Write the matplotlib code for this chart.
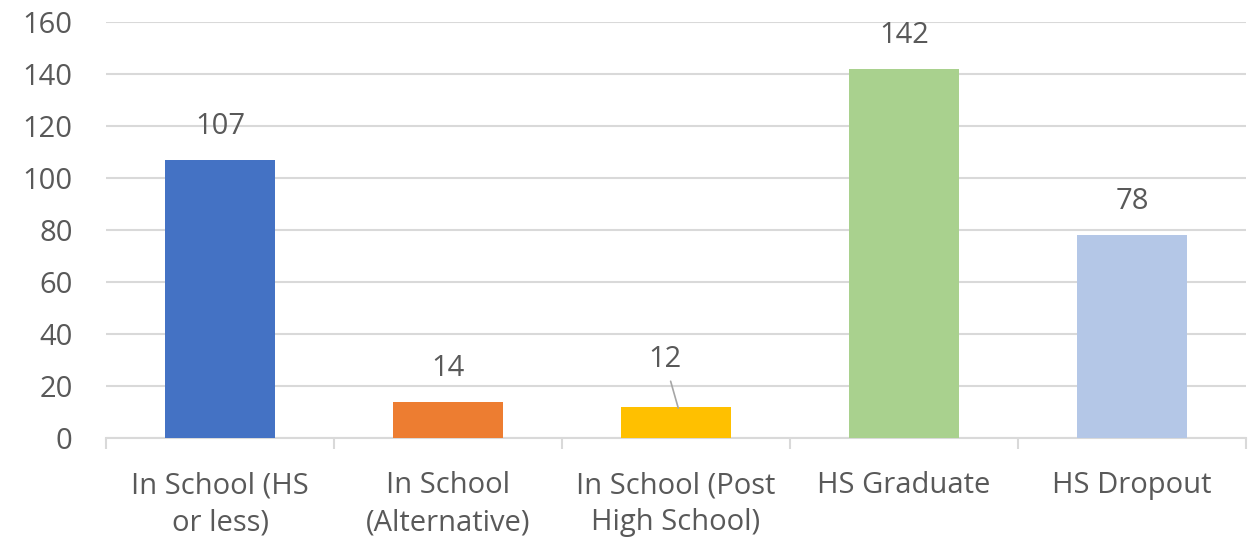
import matplotlib
matplotlib.use("Agg")
import matplotlib.pyplot as plt
import numpy as np

categories = ["In School (HS\nor less)", "In School\n(Alternative)", "In School (Post\nHigh School)", "HS Graduate", "HS Dropout"]
values = [107, 14, 12, 142, 78]
colors = ["#4472C4", "#ED7D31", "#FFC000", "#A9D18E", "#B4C7E7"]
yticks = [0, 20, 40, 60, 80, 100, 120, 140, 160]

plt.rcParams['font.family'] = ['Open Sans', 'DejaVu Sans']
txt = "#595959"
fs = 21

fig = plt.figure(figsize=(12.56, 5.47), dpi=100)
ax = fig.add_axes([0.0844, 0.1993, 0.9076, 0.7607])
x = np.arange(len(categories))
bars = ax.bar(x, values, width=0.48, color=colors, zorder=3)
ax.set_xlim(-0.5, len(categories) - 0.5)
ax.set_ylim(0, 160)
ax.set_yticks(yticks)
ax.set_yticklabels([str(v) for v in yticks], fontsize=fs, color=txt)
ax.grid(axis='y', color="#D9D9D9", linewidth=1.5, zorder=0)
for s in ['top', 'right', 'left']:
    ax.spines[s].set_visible(False)
ax.spines['bottom'].set_color("#D9D9D9")
ax.spines['bottom'].set_linewidth(1.5)
ax.tick_params(axis='y', length=0, pad=24)
ax.set_xticks(x)
ax.set_xticklabels(categories, fontsize=fs, color=txt, linespacing=1.35)
ax.set_xticks(np.arange(-0.5, len(categories)), minor=True)
ax.tick_params(axis='x', which='major', length=0, pad=24)
ax.tick_params(axis='x', which='minor', length=8, width=1.5, color="#D9D9D9")

for i, v in enumerate(values):
    if i == 2:
        ax.annotate(str(v), xy=(i + 0.01, v - 0.5), xytext=(i - 0.05, v + 18),
                    ha='center', va='center', fontsize=fs, color=txt,
                    arrowprops=dict(arrowstyle='-', color="#A6A6A6", lw=1.2,
                                    shrinkA=3, shrinkB=0))
    else:
        ax.text(i, v + 12.8, str(v), ha='center', va='center', fontsize=fs, color=txt)

fig.savefig("out.png", dpi=100)
